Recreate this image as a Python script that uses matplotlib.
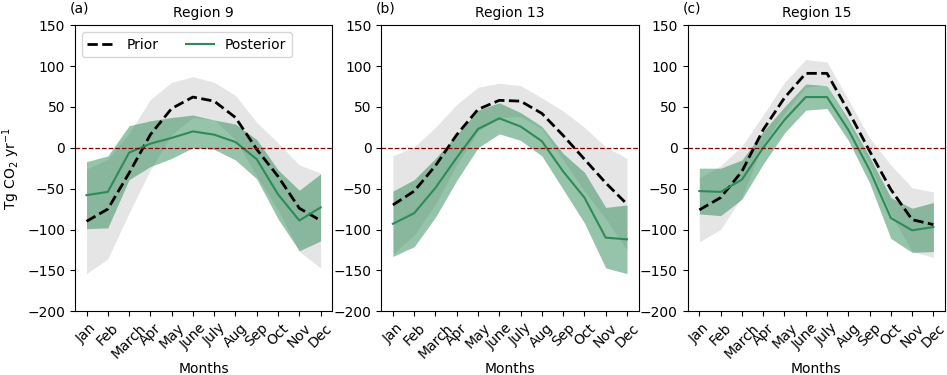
import matplotlib
matplotlib.use("Agg")
import matplotlib.pyplot as plt
import numpy as np

months = ["Jan", "Feb", "March", "Apr", "May", "June", "July", "Aug", "Sep", "Oct", "Nov", "Dec"]
regions = ["Region 9", "Region 13", "Region 15"]
panel_labels = ["(a)", "(b)", "(c)"]

# Region 9
prior_r9 = [-90, -75, -31, 16, 48, 62, 57, 37, -2, -35, -74, -89]
prior_unc_r9 = [64, 61, 49, 43, 32, 25, 23, 27, 33, 41, 53, 58]
post_r9 = [-58, -54, -6, 5, 12, 20, 16, 7, -14, -57, -89, -73]
post_unc_r9 = [41, 44, 33, 28, 25, 20, 18, 22, 24, 30, 37, 41]

# Region 13
prior_r13 = [-70, -53, -22, 16, 47, 58, 57, 42, 15, -14, -43, -69]
prior_unc_r13 = [60, 54, 47, 37, 27, 21, 19, 19, 30, 39, 44, 56]
post_r13 = [-93, -80, -49, -12, 23, 36, 26, 8, -29, -61, -110, -112]
post_unc_r13 = [40, 41, 36, 28, 23, 19, 17, 18, 22, 31, 37, 42]

# Region 15
prior_r15 = [-76, -61, -29, 22, 61, 91, 91, 45, -4, -51, -88, -94]
prior_unc_r15 = [39, 39, 31, 18, 19, 17, 14, 14, 16, 30, 39, 40]
post_r15 = [-53, -54, -39, 0, 34, 62, 62, 22, -27, -86, -101, -97]
post_unc_r15 = [28, 29, 24, 20, 16, 16, 14, 13, 16, 25, 27, 30]

priors = [prior_r9, prior_r13, prior_r15]
prior_uncs = [prior_unc_r9, prior_unc_r13, prior_unc_r15]
posts = [post_r9, post_r13, post_r15]
post_uncs = [post_unc_r9, post_unc_r13, post_unc_r15]

fig, axes = plt.subplots(1, 3, figsize=(9.47, 3.75), dpi=100)
fig.subplots_adjust(left=0.079, right=0.998, top=0.933, bottom=0.17, wspace=0.19)

x = np.arange(len(months))
for i, ax in enumerate(axes):
    pr = np.array(priors[i], dtype=float)
    pu = np.array(prior_uncs[i], dtype=float)
    po = np.array(posts[i], dtype=float)
    pou = np.array(post_uncs[i], dtype=float)
    ax.fill_between(x, pr - pu, pr + pu, color="gray", alpha=0.2, linewidth=0)
    ax.fill_between(x, po - pou, po + pou, color="seagreen", alpha=0.5, linewidth=0)
    ax.plot(x, pr, color="black", linestyle="--", linewidth=2, label="Prior")
    ax.plot(x, po, color="seagreen", linestyle="-", linewidth=1.5, label="Posterior")
    ax.axhline(0, color="darkred", linestyle="--", linewidth=0.9)
    ax.set_ylim(-200, 150)
    ax.set_xticks(x)
    ax.set_xticklabels(months, rotation=45)
    ax.set_xlabel("Months", labelpad=0.5)
    ax.set_title(regions[i], fontsize=10)
    ax.text(-0.02, 1.035, panel_labels[i], transform=ax.transAxes, fontsize=10, ha="left", va="bottom")
    if i == 0:
        ax.set_ylabel("Tg CO$_2$ yr$^{-1}$")
        ax.legend(loc="upper left", ncol=2)

fig.savefig("out.png", dpi=100)
